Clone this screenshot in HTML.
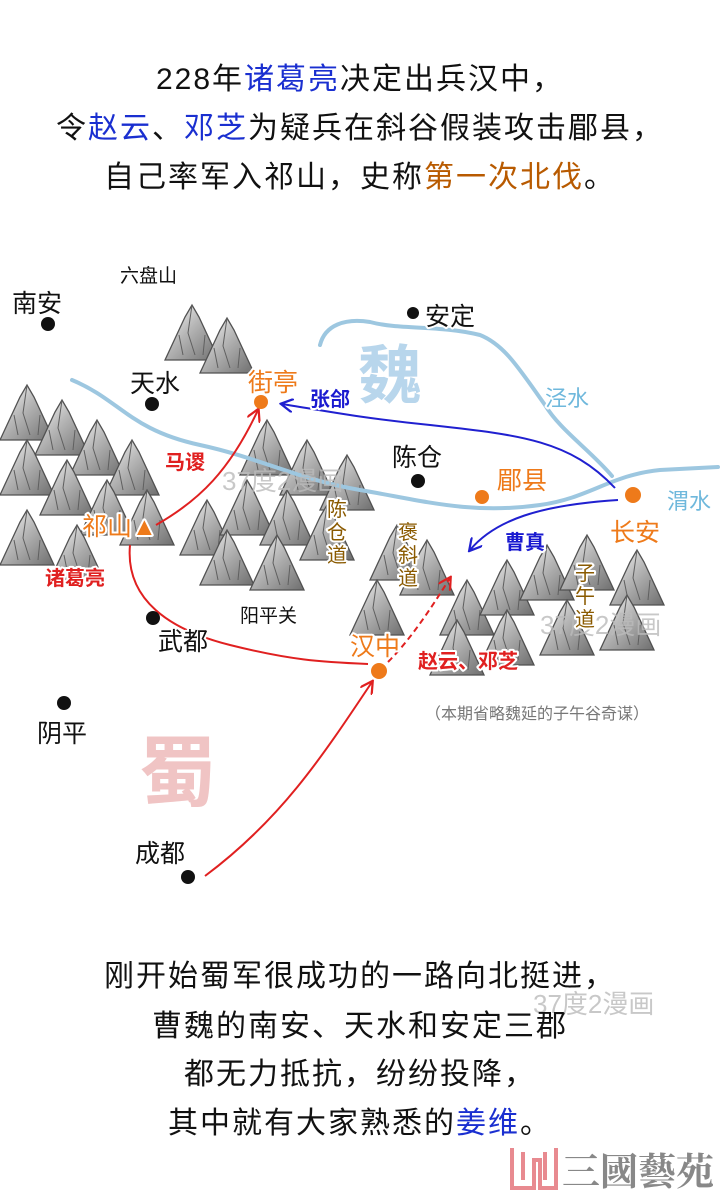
<!DOCTYPE html>
<html><head><meta charset="utf-8"><style>
body{margin:0;width:720px;height:1200px;background:#fff;overflow:hidden;font-family:"Liberation Sans","Noto Sans CJK SC",sans-serif}
svg{position:absolute;left:0;top:0}
.h{paint-order:stroke;stroke:#fff;stroke-width:4px;stroke-linejoin:round}
</style></head><body>
<svg width="720" height="1200" viewBox="0 0 720 1200" font-family="Liberation Sans, Noto Sans CJK SC, sans-serif">
<defs>
<marker id="ar" viewBox="0 0 10 10" refX="8" refY="5" markerWidth="7" markerHeight="7" orient="auto"><path d="M0,0 L9,5 L0,10" fill="none" stroke="#e02020" stroke-width="1.6"/></marker>
<marker id="ab" viewBox="0 0 10 10" refX="8" refY="5" markerWidth="7" markerHeight="7" orient="auto"><path d="M0,0 L9,5 L0,10" fill="none" stroke="#2020d0" stroke-width="1.6"/></marker>
<linearGradient id="mg" x1="0" y1="0" x2="1" y2="1"><stop offset="0" stop-color="#fff"/><stop offset="0.45" stop-color="#aaa"/><stop offset="1" stop-color="#555"/></linearGradient>
<g id="m"><path d="M0,55 L20,12 L27,0 L34,12 L54,55 Z" fill="url(#mg)" stroke="#333" stroke-width="1.3"/><path d="M27,0 L23,28 L30,50 M14,30 L18,50 M40,30 L38,50" fill="none" stroke="#444"/></g>
</defs>
<g font-size="30" letter-spacing="2" text-anchor="middle" fill="#111">
<text x="360" y="89">228年<tspan fill="#1a2fd0">诸葛亮</tspan>决定出兵汉中，</text>
<text x="360" y="138">令<tspan fill="#1a2fd0">赵云</tspan>、<tspan fill="#1a2fd0">邓芝</tspan>为疑兵在斜谷假装攻击郿县，</text>
<text x="360" y="187">自己率军入祁山，史称<tspan fill="#b85a00">第一次北伐</tspan>。</text>
</g>
<!-- mountains -->
<g opacity="0.85">
<use href="#m" x="165" y="305"/><use href="#m" x="200" y="318"/>
<use href="#m" x="0" y="385"/><use href="#m" x="35" y="400"/><use href="#m" x="70" y="420"/><use href="#m" x="105" y="440"/>
<use href="#m" x="0" y="440"/><use href="#m" x="40" y="460"/><use href="#m" x="80" y="480"/><use href="#m" x="120" y="490"/>
<use href="#m" x="0" y="510"/><use href="#m" x="50" y="525"/>
<use href="#m" x="240" y="420"/><use href="#m" x="280" y="440"/><use href="#m" x="320" y="455"/>
<use href="#m" x="180" y="500"/><use href="#m" x="220" y="480"/><use href="#m" x="260" y="490"/><use href="#m" x="300" y="505"/>
<use href="#m" x="200" y="530"/><use href="#m" x="250" y="535"/><use href="#m" x="370" y="525"/><use href="#m" x="400" y="540"/>
<use href="#m" x="350" y="580"/><use href="#m" x="440" y="580"/><use href="#m" x="480" y="560"/><use href="#m" x="520" y="545"/><use href="#m" x="560" y="535"/><use href="#m" x="610" y="550"/>
<use href="#m" x="430" y="620"/><use href="#m" x="480" y="610"/><use href="#m" x="540" y="600"/><use href="#m" x="600" y="595"/>
</g>
<!-- rivers -->
<g fill="none" stroke="#9dc7e0" stroke-width="4" stroke-linecap="round">
<path d="M72,380 C120,400 130,430 200,445 C260,458 300,480 360,490 C420,500 470,515 540,505 C590,498 610,475 660,470 L718,467"/>
<path d="M612,476 C590,450 560,430 545,405 C520,370 505,345 480,335 C440,325 400,330 370,322 C345,318 325,325 320,345"/>
</g>
<text x="390" y="398" font-size="64" fill="#b8d6ec" text-anchor="middle" font-weight="bold">魏</text>
<text x="178" y="800" font-size="78" fill="#f0c4c4" text-anchor="middle" font-weight="bold">蜀</text>
<!-- watermarks -->
<g fill="#bbb" font-size="26" opacity="0.8"><text x="222" y="490">37度2漫画</text><text x="540" y="634">37度2漫画</text><text x="533" y="1013">37度2漫画</text></g>
<!-- arrows -->
<g fill="none" stroke-width="2">
<path d="M205,876 C280,820 320,760 372,682" stroke="#e02020" marker-end="url(#ar)"/>
<path d="M130,545 C125,600 170,630 230,645 C290,660 320,662 368,664" stroke="#e02020"/>
<path d="M156,525 C200,500 230,470 258,410" stroke="#e02020" marker-end="url(#ar)"/>
<path d="M388,662 C410,640 430,610 450,578" stroke="#e02020" stroke-dasharray="6,4" marker-end="url(#ar)"/>
<path d="M615,488 C570,440 520,435 430,425 C360,418 320,410 282,404" stroke="#2020d0" marker-end="url(#ab)"/>
<path d="M618,500 C540,505 495,520 470,550" stroke="#2020d0" marker-end="url(#ab)"/>
</g>
<!-- dots -->
<g fill="#111"><circle cx="48" cy="324" r="7"/><circle cx="413" cy="313" r="6"/><circle cx="152" cy="404" r="7"/><circle cx="418" cy="481" r="7"/><circle cx="153" cy="618" r="7"/><circle cx="64" cy="703" r="7"/><circle cx="188" cy="877" r="7"/></g>
<g fill="#ee7a1a"><circle cx="261" cy="402" r="7"/><circle cx="482" cy="497" r="7"/><circle cx="633" cy="495" r="8"/><circle cx="379" cy="671" r="8"/></g>
<!-- labels -->
<g font-size="25" fill="#111" class="h">
<text x="12" y="312">南安</text><text x="425" y="325">安定</text><text x="130" y="392">天水</text><text x="392" y="466">陈仓</text><text x="158" y="650">武都</text><text x="37" y="742">阴平</text><text x="135" y="862">成都</text>
</g>
<g font-size="19" fill="#111" class="h"><text x="120" y="282">六盘山</text><text x="240" y="622">阳平关</text></g>
<g font-size="25" fill="#ee7a1a" class="h"><text x="248" y="391">街亭</text><text x="497" y="489">郿县</text><text x="610" y="541">长安</text><text x="350" y="655">汉中</text><text x="82" y="535">祁山▲</text></g>
<g font-size="20" font-weight="bold" fill="#1a1ad0" class="h"><text x="310" y="406">张郃</text><text x="505" y="549">曹真</text></g>
<g font-size="20" font-weight="bold" fill="#e02020" class="h"><text x="165" y="469">马谡</text><text x="45" y="585">诸葛亮</text><text x="418" y="668">赵云、邓芝</text></g>
<g font-size="22" fill="#6fb8dc" class="h"><text x="545" y="406">泾水</text><text x="667" y="509">渭水</text></g>
<g font-size="20" fill="#8a5a00" text-anchor="middle" class="h">
<text x="337" y="516">陈</text><text x="337" y="539">仓</text><text x="337" y="562">道</text>
<text x="408" y="539">褒</text><text x="408" y="562">斜</text><text x="408" y="585">道</text>
<text x="585" y="580">子</text><text x="585" y="603">午</text><text x="585" y="626">道</text>
</g>
<text x="425" y="719" font-size="16" fill="#777">（本期省略魏延的子午谷奇谋）</text>
<g font-size="30" letter-spacing="2" text-anchor="middle" fill="#111">
<text x="360" y="986">刚开始蜀军很成功的一路向北挺进，</text>
<text x="360" y="1036">曹魏的南安、天水和安定三郡</text>
<text x="360" y="1084">都无力抵抗，纷纷投降，</text>
<text x="360" y="1133">其中就有大家熟悉的<tspan fill="#1a2fd0">姜维</tspan>。</text>
</g>
<g fill="none" stroke="#e88a90" stroke-width="4"><path d="M512,1148 L512,1188 L534,1188 L534,1160 L540,1160 L540,1188 L556,1188 L556,1148"/><path d="M523,1152 L523,1180 M545,1152 L545,1180"/></g>
<text x="562" y="1185" font-size="38" font-weight="bold" fill="#888" font-family="Noto Serif CJK SC, serif">三國藝苑</text>
</svg>
</body></html>
